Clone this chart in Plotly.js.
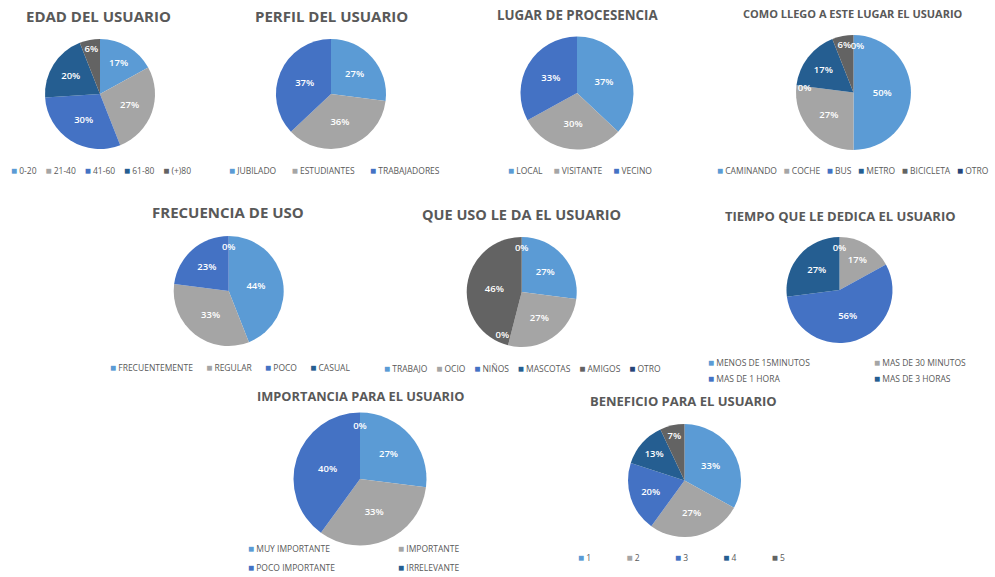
<!DOCTYPE html>
<html><head><meta charset="utf-8">
<script src="https://cdn.plot.ly/plotly-3.0.1.min.js"></script>
<style>html,body{margin:0;padding:0;background:#fff}#chart{width:995px;height:577px}</style>
</head><body><div id="chart"></div>
<script>
// ---------- data ----------
const edadLabels = ['0-20', '21-40', '41-60', '61-80', '(+)80'];
const edadValues = [17, 27, 30, 20, 6];
const perfilLabels = ['JUBILADO', 'ESTUDIANTES', 'TRABAJADORES'];
const perfilValues = [27, 36, 37];
const lugarLabels = ['LOCAL', 'VISITANTE', 'VECINO'];
const lugarValues = [37, 30, 33];
const llegoLabels = ['CAMINANDO', 'COCHE', 'BUS', 'METRO', 'BICICLETA', 'OTRO'];
const llegoValues = [50, 27, 0, 17, 6, 0];
const frecLabels = ['FRECUENTEMENTE', 'REGULAR', 'POCO', 'CASUAL'];
const frecValues = [44, 33, 23, 0];
const usoLabels = ['TRABAJO', 'OCIO', 'NIÑOS', 'MASCOTAS', 'AMIGOS', 'OTRO'];
const usoValues = [27, 27, 0, 0, 46, 0];
const tiempoLabels = ['MENOS DE 15MINUTOS', 'MAS DE 30 MINUTOS', 'MAS DE 1 HORA', 'MAS DE 3 HORAS'];
const tiempoValues = [0, 17, 56, 27];
const impLabels = ['MUY IMPORTANTE', 'IMPORTANTE', 'POCO IMPORTANTE', 'IRRELEVANTE'];
const impValues = [27, 33, 40, 0];
const benLabels = ['1', '2', '3', '4', '5'];
const benValues = [33, 27, 20, 13, 7];

const titles = ['EDAD DEL USUARIO', 'PERFIL DEL USUARIO', 'LUGAR DE PROCESENCIA',
  'COMO LLEGO A ESTE LUGAR EL USUARIO', 'FRECUENCIA DE USO', 'QUE USO LE DA EL USUARIO',
  'TIEMPO QUE LE DEDICA EL USUARIO', 'IMPORTANCIA PARA EL USUARIO', 'BENEFICIO PARA EL USUARIO'];
const labelSets = [edadLabels, perfilLabels, lugarLabels, llegoLabels, frecLabels, usoLabels, tiempoLabels, impLabels, benLabels];
const valueSets = [edadValues, perfilValues, lugarValues, llegoValues, frecValues, usoValues, tiempoValues, impValues, benValues];

// ---------- styles / layout (pixels) ----------
const W = 995, H = 577;
const palette = ['#5B9BD5', '#A5A5A5', '#4472C4', '#255E91', '#636363', '#264478'];
const titleColor = '#595959';
const frames = [
  {cx: 100, cy: 94, r: 55, tx: 98, ty: 16, ts: 15, lx: 101, ly: 170, gap: 4},
  {cx: 331, cy: 94, r: 55, tx: 331, ty: 16, ts: 15, lx: 334, ly: 170, gap: 7},
  {cx: 577, cy: 93, r: 56.5, tx: 577, ty: 15, ts: 13.3, lx: 580, ly: 170, gap: 5},
  {cx: 853.5, cy: 92.5, r: 57.5, tx: 853, ty: 13, ts: 11, lx: 853, ly: 170, gap: 3, zdx: 4},
  {cx: 228.7, cy: 291, r: 55, tx: 228, ty: 212, ts: 15, lx: 230, ly: 367, gap: 6},
  {cx: 521.7, cy: 292, r: 55, tx: 521, ty: 215, ts: 14.5, lx: 522, ly: 368, gap: 4},
  {cx: 839.5, cy: 290, r: 53, tx: 840, ty: 216, ts: 13, cols: [706, 872], rows: [362, 378]},
  {cx: 360, cy: 479, r: 66.5, tx: 360, ty: 396, ts: 12.8, cols: [246, 396], rows: [548, 567]},
  {cx: 684.5, cy: 480.5, r: 56.5, tx: 683, ty: 401, ts: 13, lx: 681, ly: 557, gap: 16}
];
const legendFont = {family: 'Open Sans', size: 8.5, color: titleColor};
const swatchSize = 10;
const labelFont = {family: 'Open Sans', size: 9.5, color: '#ffffff', weight: 600};
const zeroTopRadius = 0.81;   // empty slice at 12 o'clock: label a little inside the rim
const zeroSideRadius = 0.68;  // empty slice elsewhere: label pushed out from this rim
const NB = '\u00a0';
const pctFmt = '%{percent:.0%}';
const clear = 'rgba(0,0,0,0)';

function domainFor(cx, cy, rr) {
  return {
    x: [(cx - rr) / W, (cx + rr) / W],
    y: [1 - (cy + rr) / H, 1 - (cy - rr) / H]
  };
}

const traces = [];
const annotations = [];
frames.forEach((f, k) => {
  const labels = labelSets[k];
  const values = valueSets[k];
  const total = values.reduce((a, b) => a + b, 0);
  const colors = labels.map((_, i) => palette[i % palette.length]);
  const starts = values.map((_, i) => values.slice(0, i).reduce((a, b) => a + b, 0));
  const atTop = values.map((v, i) => starts[i] === 0 || starts[i] === total);
  const base = {
    type: 'pie', labels: labels, values: values, sort: false,
    direction: 'clockwise', rotation: 0,
    textposition: 'inside', insidetextorientation: 'horizontal',
    textfont: labelFont, outsidetextfont: labelFont,
    hoverinfo: 'none', showlegend: false
  };
  // slices + labels of non-empty slices
  traces.push(Object.assign({}, base, {
    marker: {colors: colors, line: {width: 0}},
    texttemplate: values.map(v => v === 0 ? '' : pctFmt),
    domain: domainFor(f.cx, f.cy, f.r)
  }));
  // labels of empty slices at 12 o'clock
  if (values.some((v, i) => v === 0 && atTop[i])) {
    traces.push(Object.assign({}, base, {
      marker: {colors: labels.map(() => clear), line: {width: 0}},
      texttemplate: values.map((v, i) => (v === 0 && atTop[i]) ? pctFmt : ''),
      domain: domainFor(f.cx + (f.zdx || 0), f.cy, f.r * zeroTopRadius)
    }));
  }
  // labels of empty slices elsewhere on the circle (one per position)
  if (values.some((v, i) => v === 0 && !atTop[i])) {
    traces.push(Object.assign({}, base, {
      marker: {colors: labels.map(() => clear), line: {width: 0}},
      textposition: 'outside',
      texttemplate: values.map((v, i) =>
        (v === 0 && !atTop[i] && values[i + 1] !== 0) ? pctFmt : ''),
      domain: domainFor(f.cx, f.cy, f.r * zeroSideRadius)
    }));
  }
  annotations.push({
    text: titles[k], xref: 'paper', yref: 'paper',
    x: f.tx / W, y: 1 - f.ty / H, xanchor: 'center', yanchor: 'middle', showarrow: false,
    font: {family: 'Open Sans', size: f.ts, color: titleColor, weight: 700}
  });
  const item = (i) => '<span style="color:' + colors[i] + ';font-size:' + swatchSize + 'px">■</span>' + NB + labels[i];
  if (f.cols) {
    labels.forEach((_, i) => {
      annotations.push({
        text: item(i), xref: 'paper', yref: 'paper',
        x: f.cols[i % 2] / W, y: 1 - f.rows[Math.floor(i / 2)] / H,
        xanchor: 'left', yanchor: 'middle', showarrow: false, font: legendFont
      });
    });
  } else {
    annotations.push({
      text: labels.map((_, i) => item(i)).join(NB.repeat(f.gap)),
      xref: 'paper', yref: 'paper', x: f.lx / W, y: 1 - f.ly / H,
      xanchor: 'center', yanchor: 'middle', showarrow: false, font: legendFont
    });
  }
});

Plotly.newPlot('chart', traces, {
  width: W, height: H,
  margin: {l: 0, r: 0, t: 0, b: 0},
  paper_bgcolor: '#ffffff',
  showlegend: false,
  uniformtext: {mode: 'show', minsize: 9.5},
  annotations: annotations
}, {displayModeBar: false, staticPlot: true});
</script>
</body></html>
